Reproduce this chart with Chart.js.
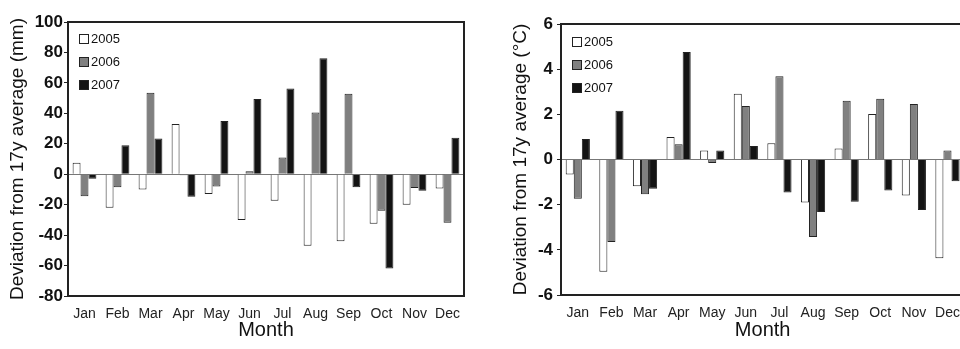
<!DOCTYPE html>
<html>
<head>
<meta charset="utf-8">
<script src="https://cdn.jsdelivr.net/npm/chart.js@4.4.1/dist/chart.umd.min.js"></script>
<style>
html, body { margin:0; padding:0; background:#fff; overflow:hidden; width:960px; height:349px; }
canvas { position:absolute; top:0; }
#precipChart { left:0; }
#tempChart { left:480px; }
</style>
</head>
<body>
<canvas id="precipChart" width="480" height="349"></canvas>
<canvas id="tempChart" width="490" height="349"></canvas>
<script>
// monthly deviations from the 17 year average
const months = ['Jan','Feb','Mar','Apr','May','Jun','Jul','Aug','Sep','Oct','Nov','Dec'];
const years = ['2005','2006','2007'];

// precipitation (mm)
const precip2005 = [7.5, -22, -10, 33, -13, -30, -17.5, -47, -44, -32.5, -20, -9.3];
const precip2006 = [-14.5, -8.5, 53.5, -0.7, -8, 2, 11, 40.5, 52.8, -24, -9, -31.8];
const precip2007 = [-3, 19, 23.5, -14.8, 35, 49.4, 56.3, 76.2, -8.6, -62, -10.8, 24];
const precipTicks = [-80, -60, -40, -20, 0, 20, 40, 60, 80, 100];

// temperature (°C)
const temp2005 = [-0.66, -4.97, -1.18, 1.0, 0.4, 2.91, 0.72, -1.9, 0.49, 2.01, -1.59, -4.37];
const temp2006 = [-1.74, -3.65, -1.54, 0.68, -0.15, 2.37, 3.69, -3.43, 2.6, 2.69, 2.46, 0.4];
const temp2007 = [0.91, 2.16, -1.29, 4.76, 0.4, 0.6, -1.46, -2.32, -1.87, -1.37, -2.24, -0.96];
const tempTicks = [-6, -4, -2, 0, 2, 4, 6];

const fills = ['#ffffff', '#808080', '#141414'];
const FONT = "'Liberation Sans', Arial, Helvetica, sans-serif";

// box around plot + legend inside top-left corner
const frameLegend = {
    id: 'frameLegend',
    afterDraw(chart, args, opts) {
        const ctx = chart.ctx;
        const a = chart.chartArea;
        ctx.save();
        ctx.strokeStyle = '#222';
        ctx.lineWidth = 2;
        ctx.strokeRect(a.left, a.top, a.right - a.left, a.bottom - a.top);
        ctx.font = '13px ' + FONT;
        ctx.textBaseline = 'middle';
        chart.data.datasets.forEach((ds, i) => {
            const y = opts.y + i * 23;
            ctx.fillStyle = ds.backgroundColor;
            ctx.fillRect(opts.x, y - 5, 10, 10);
            ctx.strokeStyle = '#222';
            ctx.lineWidth = 1;
            ctx.strokeRect(opts.x + 0.5, y - 4.5, 9, 9);
            ctx.fillStyle = '#111';
            ctx.fillText(ds.label, opts.x + 12, y);
        });
        ctx.restore();
    }
};

function makeChart(id, s1, s2, s3, ticks, title, cfg) {
    const ctx = document.getElementById(id).getContext('2d');
    return new Chart(ctx, {
        type: 'bar',
        data: {
            labels: months,
            datasets: [s1, s2, s3].map((d, i) => ({
                label: years[i],
                data: d,
                backgroundColor: fills[i],
                borderColor: '#222',
                borderWidth: 1,
                categoryPercentage: 0.72,
                barPercentage: 1
            }))
        },
        plugins: [frameLegend],
        options: {
            responsive: false,
            animation: false,
            devicePixelRatio: 1,
            layout: { padding: { top: cfg.top, right: cfg.right, left: 0, bottom: 0 } },
            plugins: {
                legend: { display: false },
                tooltip: { enabled: false },
                frameLegend: { x: cfg.legX, y: cfg.legY }
            },
            scales: {
                x: {
                    grid: { display: false, drawTicks: false },
                    border: { display: false },
                    ticks: { color: '#222', padding: 10, font: { family: FONT, size: 14 }, maxRotation: 0, autoSkip: false },
                    title: { display: true, text: 'Month', color: '#111', font: { family: FONT, size: 20 }, padding: { top: 0, bottom: 7 } },
                    afterFit: s => { s.height = cfg.xh; }
                },
                y: {
                    min: ticks[0],
                    max: ticks[ticks.length - 1],
                    afterBuildTicks: s => { s.ticks = ticks.map(v => ({ value: v })); },
                    grid: {
                        color: c => c.tick && c.tick.value === 0 ? '#777' : 'rgba(0,0,0,0)',
                        tickColor: '#222',
                        tickLength: 4,
                        lineWidth: 1
                    },
                    border: { display: false },
                    ticks: { color: '#111', padding: cfg.tp, font: { family: FONT, size: 17, weight: 'bold' } },
                    title: { display: true, text: title, color: '#111', font: { family: FONT, size: 19 }, padding: { top: cfg.tt, bottom: 0 } },
                    afterFit: s => { s.width = cfg.yw; }
                }
            }
        }
    });
}

makeChart('precipChart', precip2005, precip2006, precip2007, precipTicks,
    'Deviation from 17y average (mm)',
    { top: 22, right: 16, xh: 53, yw: 68, tp: 1, tt: 6, legX: 79, legY: 39 });

makeChart('tempChart', temp2005, temp2006, temp2007, tempTicks,
    'Deviation from 17y average (°C)',
    { top: 24, right: 2, xh: 54, yw: 81, tp: 4, tt: 29, legX: 92, legY: 42 });
</script>
</body>
</html>
